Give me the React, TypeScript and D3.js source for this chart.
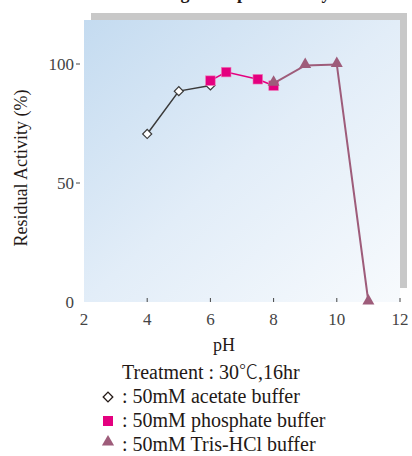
import React from "react";
import * as d3 from "d3";

const xTicks = [2, 4, 6, 8, 10, 12];
const yTicks = [0, 50, 100];

const acetatePH = [4, 5, 6];
const acetateVal = [70.6, 88.6, 91.0];

const phosphatePH = [6, 6.5, 7.5, 8];
const phosphateVal = [93.0, 96.6, 93.6, 90.9];

const trisPH = [8, 9, 10, 11];
const trisVal = [91.9, 99.4, 99.8, 0];

const legendLines = [
  " : 50mM acetate buffer",
  " : 50mM phosphate buffer",
  " : 50mM Tris-HCl buffer",
];

const W = 412;
const H = 456;
const left = 84, right = 400, top = 20, bottom = 302;

export default function App() {
  const x = d3.scaleLinear().domain([2, 12]).range([left, right]);
  const y = d3.scaleLinear().domain([0, 100]).range([bottom, 64]);
  const line = d3
    .line<[number, number]>()
    .x((d) => x(d[0]))
    .y((d) => y(d[1]));
  const ac = acetatePH.map((p, i) => [p, acetateVal[i]] as [number, number]);
  const ph = phosphatePH.map((p, i) => [p, phosphateVal[i]] as [number, number]);
  const tr = trisPH.map((p, i) => [p, trisVal[i]] as [number, number]);
  const serif = "'Liberation Serif', 'Times New Roman', serif";
  const tri = d3.symbol(d3.symbolTriangle, 62)();
  return (
    <svg
      width={W}
      height={H}
      style={{ position: "absolute", left: 0, top: 0, display: "block" }}
      fontFamily={serif}
    >
      <defs>
        <linearGradient id="bg" x1="0" y1="0" x2="1" y2="1">
          <stop offset="0" stopColor="#c4dbf0" />
          <stop offset="0.5" stopColor="#e2edf8" />
          <stop offset="1" stopColor="#f7fafd" />
        </linearGradient>
      </defs>
      <text x={240} y={-1} textAnchor="middle" fontSize={18} fontWeight="bold" fill="#231815">
        Long-term pH Stability
      </text>
      <rect x={left + 7} y={top - 7} width={right - left} height={bottom - top - 7} fill="#c8c8c8" />
      <rect x={left} y={top} width={right - left} height={bottom - top} fill="url(#bg)" />
      {xTicks.map((t) => (
        <g key={"x" + t}>
          {t !== 2 && (
            <line x1={x(t)} x2={x(t)} y1={bottom - 4} y2={bottom} stroke="#444" strokeWidth={1} />
          )}
          <text x={x(t)} y={bottom + 23} textAnchor="middle" fontSize={17} fill="#444">
            {t}
          </text>
        </g>
      ))}
      {yTicks.map((t) => (
        <g key={"y" + t}>
          {t !== 0 && (
            <line x1={76} x2={80} y1={y(t)} y2={y(t)} stroke="#444" strokeWidth={1} />
          )}
          <text x={74} y={y(t) + 6} textAnchor="end" fontSize={17} fill="#444">
            {t}
          </text>
        </g>
      ))}
      <text x={left + (right - left) / 2 - 18} y={351} textAnchor="middle" fontSize={18} fill="#231815">
        pH
      </text>
      <text
        transform={`translate(27,${168}) rotate(-90)`}
        textAnchor="middle"
        fontSize={18}
        fill="#231815"
      >
        Residual Activity (%)
      </text>

      <path d={line(ac) || ""} fill="none" stroke="#3a3a3a" strokeWidth={1.5} />
      {ac.map((d, i) => (
        <rect
          key={"a" + i}
          x={-3.2}
          y={-3.2}
          width={6.4}
          height={6.4}
          transform={`translate(${x(d[0])},${y(d[1])}) rotate(45)`}
          fill="#fff"
          stroke="#3a3a3a"
          strokeWidth={1.2}
        />
      ))}
      <path d={line(ph) || ""} fill="none" stroke="#e4007f" strokeWidth={1.6} />
      {ph.map((d, i) => (
        <rect
          key={"p" + i}
          x={x(d[0]) - 4.8}
          y={y(d[1]) - 4.8}
          width={9.6}
          height={9.6}
          fill="#e4007f"
          stroke="#ee7ab8"
          strokeWidth={0.6}
        />
      ))}
      <path d={line(tr) || ""} fill="none" stroke="#9e5c7a" strokeWidth={2} />
      {tr.map((d, i) => (
        <path key={"t" + i} d={tri || ""} transform={`translate(${x(d[0])},${y(d[1]) - 1})`} fill="#9e5c7a" />
      ))}

      <g fontSize={20} fill="#231815">
        <text x={122} y={379}>
          Treatment : 30
          <tspan fontFamily="'Noto Sans CJK JP'" fontWeight={300} fontSize={19}>℃</tspan>
          ,16hr
        </text>
        {legendLines.map((s, i) => (
          <text key={"l" + i} x={117} y={403 + i * 24} xmlSpace="preserve">
            {s}
          </text>
        ))}
      </g>
      <rect x={-3.4} y={-3.4} width={6.8} height={6.8} transform={`translate(108,397) rotate(45)`} fill="#fff" stroke="#231815" strokeWidth={1.3} />
      <rect x={103} y={416} width={10} height={10} fill="#e4007f" />
      <path d={d3.symbol(d3.symbolTriangle, 64)() || ""} transform="translate(108,442)" fill="#9e5c7a" />
    </svg>
  );
}
